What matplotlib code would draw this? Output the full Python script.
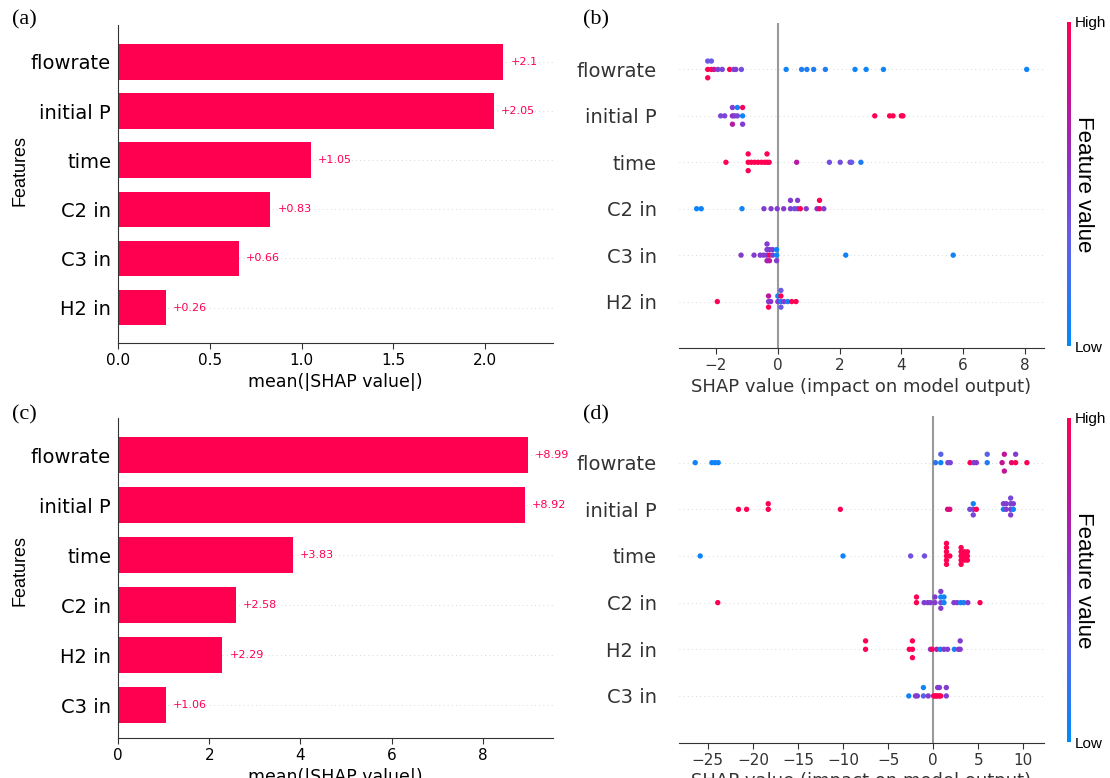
import numpy as np
import matplotlib
matplotlib.use("Agg")
import matplotlib.pyplot as plt
from matplotlib.colors import LinearSegmentedColormap, Normalize
from matplotlib.cm import ScalarMappable

# ---------------- data ----------------
a_features = ["flowrate", "initial P", "time", "C2 in", "C3 in", "H2 in"]
a_values = [2.1, 2.05, 1.05, 0.83, 0.66, 0.26]

c_features = ["flowrate", "initial P", "time", "C2 in", "H2 in", "C3 in"]
c_values = [8.99, 8.92, 3.83, 2.58, 2.29, 1.06]

# panel (b) beeswarm: SHAP values and normalised feature values (0 = low, 1 = high)
b_features = ["flowrate", "initial P", "time", "C2 in", "C3 in", "H2 in"]
b_flowrate_shap = [-2.27, -2.27, -2.27, -2.15, -2.15, -2.06, -1.94, -1.80, -1.56, -1.43, -1.36, -1.18,
                   0.27, 0.77, 0.94, 1.16, 1.54, 2.50, 2.86, 3.42, 8.06]
b_flowrate_val = [1.0, 0.35, 1.0, 1.0, 0.35, 0.75, 0.5, 0.45, 1.0, 0.45, 0.5, 0.4,
                  0.05, 0.1, 0.1, 0.1, 0.1, 0.05, 0.05, 0.05, 0.05]
b_initp_shap = [-1.85, -1.72, -1.47, -1.47, -1.47, -1.40, -1.31, -1.31, -1.14, -1.14, -1.14,
                3.14, 3.62, 3.73, 4.00, 4.05]
b_initp_val = [0.45, 0.45, 0.6, 0.5, 0.7, 0.5, 0.45, 0.05, 0.05, 0.95, 0.5,
               1.0, 1.0, 1.0, 1.0, 1.0]
b_time_shap = [-1.68, -0.96, -0.96, -0.96, -0.86, -0.75, -0.64, -0.53, -0.43, -0.35, -0.35, -0.28,
               0.61, 1.67, 2.02, 2.34, 2.39, 2.69]
b_time_val = [1.0, 1.0, 1.0, 1.0, 1.0, 1.0, 1.0, 1.0, 1.0, 1.0, 1.0, 1.0,
              0.72, 0.4, 0.42, 0.45, 0.35, 0.1]
b_c2_shap = [-2.63, -2.48, -1.16, -0.45, -0.22, -0.02, 0.19, 0.41, 0.41, 0.54, 0.64, 0.64, 0.73,
             0.92, 1.27, 1.35, 1.35, 1.49]
b_c2_val = [0.05, 0.05, 0.05, 0.5, 0.5, 0.5, 0.5, 0.5, 0.5, 0.4, 0.45, 0.5, 1.0,
            0.5, 0.55, 0.95, 1.0, 0.5]
b_c3_shap = [-1.19, -0.77, -0.57, -0.46, -0.35, -0.35, -0.35, -0.35, -0.27, -0.27, -0.27,
             -0.17, -0.17, -0.04, -0.04, -0.04, 2.20, 5.68]
b_c3_val = [0.5, 0.5, 0.5, 0.5, 0.5, 0.5, 0.65, 0.5, 1.0, 0.5, 0.7,
            0.5, 0.5, 0.05, 0.05, 0.5, 0.05, 0.05]
b_h2_shap = [-1.96, -0.30, -0.30, -0.30, -0.23, 0.00, 0.00, 0.10, 0.10, 0.10, 0.10, 0.20, 0.32, 0.45, 0.59]
b_h2_val = [1.0, 0.5, 0.75, 1.0, 0.55, 0.5, 0.05, 0.1, 1.0, 0.35, 0.35, 0.5, 0.1, 1.0, 1.0]

# panel (d) beeswarm
d_features = ["flowrate", "initial P", "time", "C2 in", "H2 in", "C3 in"]
d_flowrate_shap = [-26.4, -24.55, -24.2, -23.85, 0.26, 0.85, 0.85, 1.63, 1.9, 4.1, 4.5, 4.8, 6.0, 6.0,
                   7.65, 7.9, 7.9, 8.7, 9.15, 9.15, 10.4]
d_flowrate_val = [0.05, 0.05, 0.05, 0.05, 0.15, 0.05, 0.3, 0.45, 0.45, 1.0, 0.5, 0.5, 0.1, 0.3,
                  0.75, 0.75, 0.75, 0.9, 1.0, 0.5, 1.0]
d_initp_shap = [-21.6, -20.7, -18.3, -18.3, -10.3, 1.6, 1.85, 4.07, 4.45, 4.45, 4.45, 4.8,
                7.8, 7.8, 8.1, 8.1, 8.6, 8.6, 8.6, 8.6, 8.9, 8.9]
d_initp_val = [1.0, 1.0, 1.0, 1.0, 1.0, 0.85, 0.85, 0.45, 0.5, 0.05, 0.45, 1.0,
               0.05, 0.5, 0.5, 0.5, 0.5, 0.45, 0.5, 0.45, 0.05, 0.5]
d_time_shap = [-25.85, -10.0, -2.5, -0.96, 1.48, 1.48, 1.48, 1.48, 1.48, 1.48, 1.85,
               3.1, 3.1, 3.1, 3.1, 3.1, 3.45, 3.45, 3.45, 3.8, 3.8, 3.8]
d_time_val = [0.05, 0.05, 0.4, 0.4, 1.0, 1.0, 1.0, 1.0, 1.0, 1.0, 1.0,
              1.0, 1.0, 1.0, 1.0, 1.0, 1.0, 1.0, 1.0, 1.0, 1.0, 1.0]
d_c2_shap = [-23.9, -1.85, -1.85, -1.0, -0.6, -0.3, 0.2, 0.2, 0.85, 0.85, 0.85, 0.85, 1.2, 1.2,
             2.3, 2.65, 3.05, 3.4, 3.85, 5.2]
d_c2_val = [1.0, 1.0, 1.0, 0.5, 0.5, 0.5, 0.5, 0.5, 0.45, 0.05, 0.5, 0.5, 0.05, 0.05,
            0.5, 0.5, 0.05, 0.1, 0.5, 1.0]
d_h2_shap = [-7.5, -7.5, -2.65, -2.3, -2.3, -2.3, -0.3, -0.1, 0.4, 0.8, 1.2, 1.6, 2.35, 2.8, 3.0, 3.0]
d_h2_val = [1.0, 1.0, 1.0, 1.0, 1.0, 1.0, 0.5, 1.0, 0.7, 0.05, 0.5, 0.5, 0.1, 0.5, 0.5, 0.5]
d_c3_shap = [-2.7, -1.96, -1.75, -1.08, -1.08, -0.55, 0.05, 0.2, 0.35, 0.5, 0.5, 0.7, 0.7, 0.85, 1.46, 1.46]
d_c3_val = [0.05, 0.5, 0.5, 0.3, 0.05, 0.5, 1.0, 1.0, 1.0, 1.0, 0.5, 1.0, 0.5, 1.0, 0.5, 0.5]

# ---------------- styling ----------------
RED = "#ff0051"
cmap = LinearSegmentedColormap.from_list(
    "shap_rb", [(0.0, "#008bfb"), (0.35, "#6a5ae6"), (0.55, "#8a33c9"),
                (0.75, "#c0159a"), (1.0, "#ff0052")])

W, H = 1110, 778
fig = plt.figure(figsize=(W / 100, H / 100), dpi=100)


def rect(x0, y0, x1, y1):
    return [x0 / W, 1 - y1 / H, (x1 - x0) / W, (y1 - y0) / H]


def bar_panel(r, names, vals, xlim, xticks, xticklabels, ybottom):
    ax = fig.add_axes(r)
    n = len(names)
    pos = np.arange(n)[::-1]
    for p in pos:
        ax.axhline(p, color="#cccccc", lw=0.6, dashes=(1, 4), zorder=-1)
    ax.barh(pos, vals, height=0.72, color=RED, edgecolor="none", zorder=2)
    for p, v in zip(pos, vals):
        ax.annotate(f"{v:+g}", (v, p), xytext=(5, 0), textcoords="offset points",
                    ha="left", va="center", color=RED, fontsize=8)
    ax.set_yticks(pos)
    ax.set_yticklabels(names, fontsize=14)
    ax.tick_params("y", length=0, pad=5)
    ax.set_xlim(*xlim)
    ax.set_ylim(ybottom, n - 0.25)
    ax.set_xticks(xticks)
    ax.set_xticklabels(xticklabels)
    ax.tick_params("x", labelsize=11, length=4, color="#333333")
    ax.spines["top"].set_visible(False)
    ax.spines["right"].set_visible(False)
    ax.spines["left"].set_color("#333333")
    ax.spines["bottom"].set_color("#333333")
    ax.set_xlabel("mean(|SHAP value|)", fontsize=12.5, labelpad=3)
    return ax


def swarm_offsets(s, row_height=0.4):
    s = np.asarray(s, dtype=float)
    nbins = 100
    quant = np.round(nbins * (s - s.min()) / (s.max() - s.min() + 1e-8))
    inds = np.argsort(quant, kind="stable")
    layer = 0
    last_bin = -1
    ys = np.zeros(len(s))
    for ind in inds:
        if quant[ind] != last_bin:
            layer = 0
        ys[ind] = np.ceil(layer / 2) * ((layer % 2) * 2 - 1)
        layer += 1
        last_bin = quant[ind]
    ys *= 0.9 * (row_height / np.max(ys + 1))
    return ys


def beeswarm_panel(r, names, shaps, vals, xlim, xticks, xticklabels):
    ax = fig.add_axes(r)
    n = len(names)
    ax.axvline(0, color="#999999", lw=1.5, zorder=-1)
    for i, (s, v) in enumerate(zip(shaps, vals)):
        pos = n - 1 - i
        ax.axhline(pos, color="#cccccc", lw=0.6, dashes=(1, 4), zorder=-1)
        ys = swarm_offsets(s)
        ax.scatter(s, pos + ys, c=v, cmap=cmap, vmin=0, vmax=1, s=15,
                   linewidths=0, zorder=3)
    ax.set_yticks(np.arange(n)[::-1])
    ax.set_yticklabels(names, fontsize=14, color="#333333")
    ax.tick_params("y", length=0, pad=16)
    ax.set_ylim(-1, n)
    ax.set_xlim(*xlim)
    ax.set_xticks(xticks)
    ax.set_xticklabels(xticklabels, color="#333333")
    ax.tick_params("x", labelsize=11, length=4, color="#333333")
    for sp in ["top", "right", "left"]:
        ax.spines[sp].set_visible(False)
    ax.spines["bottom"].set_color("#333333")
    ax.set_xlabel("SHAP value (impact on model output)", fontsize=13, color="#333333", labelpad=3)
    return ax


def colorbar(r):
    cax = fig.add_axes(r)
    sm = ScalarMappable(norm=Normalize(0, 1), cmap=cmap)
    cb = fig.colorbar(sm, cax=cax)
    cb.set_ticks([0, 1])
    cb.set_ticklabels(["Low", "High"])
    cb.ax.tick_params(length=0, labelsize=11, pad=3)
    for t in cb.ax.get_yticklabels():
        t.set_family("Liberation Sans")
    cb.outline.set_visible(False)
    cax.text(4.2, 0.5, "Feature value", rotation=270, transform=cax.transAxes,
             ha="center", va="center", fontsize=16, family="Liberation Sans")
    return cb


# (a)
bar_panel(rect(118, 25, 553, 343), a_features, a_values, (0, 2.37),
          [0, 0.5, 1.0, 1.5, 2.0], ["0.0", "0.5", "1.0", "1.5", "2.0"], -0.72)
# (c)
bar_panel(rect(118, 418, 553, 738), c_features, c_values, (0, 9.54),
          [0, 2, 4, 6, 8], ["0", "2", "4", "6", "8"], -0.66)

# (b)
beeswarm_panel(rect(679, 23, 1044, 348), b_features,
               [b_flowrate_shap, b_initp_shap, b_time_shap, b_c2_shap, b_c3_shap, b_h2_shap],
               [b_flowrate_val, b_initp_val, b_time_val, b_c2_val, b_c3_val, b_h2_val],
               (-3.2, 8.62), [-2, 0, 2, 4, 6, 8], ["\u22122", "0", "2", "4", "6", "8"])
# (d)
beeswarm_panel(rect(679, 416, 1044, 742.6), d_features,
               [d_flowrate_shap, d_initp_shap, d_time_shap, d_c2_shap, d_h2_shap, d_c3_shap],
               [d_flowrate_val, d_initp_val, d_time_val, d_c2_val, d_h2_val, d_c3_val],
               (-28.2, 12.3), [-25, -20, -15, -10, -5, 0, 5, 10],
               ["\u221225", "\u221220", "\u221215", "\u221210", "\u22125", "0", "5", "10"])

colorbar(rect(1067, 22, 1071, 346))
colorbar(rect(1067, 418, 1071, 742))

# y labels and panel letters
for yc in (170, 570):
    fig.text(20 / W, 1 - yc / H, "Features", rotation=90, ha="center", va="center",
             fontsize=13, family="Liberation Sans")
for x, y, lab in [(12, 20, "(a)"), (583, 20, "(b)"), (12, 415, "(c)"), (583, 415, "(d)")]:
    fig.text(x / W, 1 - y / H, lab, ha="left", va="center", fontsize=16,
             family="Liberation Serif")

fig.savefig("out.png", dpi=100)
